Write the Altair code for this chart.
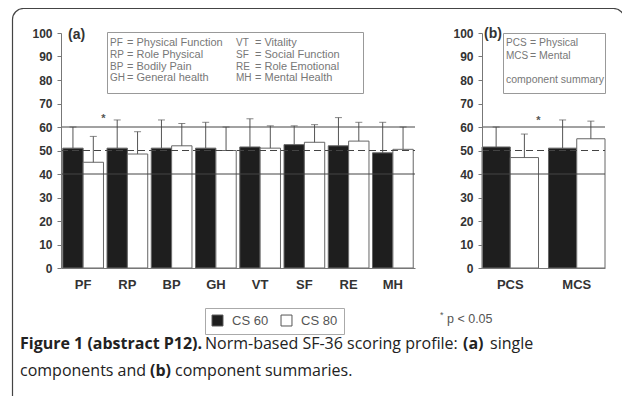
import altair as alt
import pandas as pd

# ---------------- data ----------------
cats_a = ["PF", "RP", "BP", "GH", "VT", "SF", "RE", "MH"]
cs60_a = [51, 51, 51, 51, 51.5, 52.5, 52, 49]
cs60_a_err = [60, 63, 63, 62, 63.5, 60.5, 64, 62]
cs80_a = [45, 48.5, 52, 50, 51, 53.5, 54, 50.5]
cs80_a_err = [56, 58, 61.5, 60, 60.5, 61, 62, 60]

cats_b = ["PCS", "MCS"]
cs60_b = [51.5, 51]
cs60_b_err = [60, 63]
cs80_b = [47, 55]
cs80_b_err = [57, 62.5]

groups = ["CS 60", "CS 80"]
group_fill = ["#1e1e1e", "#ffffff"]

sig_a_cat = ["PF"]
sig_a_pos = [64.5]
sig_b_cat = ["PCS"]
sig_b_pos = [64]

ref_solid = [40, 60]
ref_dashed = [50]
y_ticks = [0, 10, 20, 30, 40, 50, 60, 70, 80, 90, 100]

abbr_a1 = ["PF", "RP", "BP", "GH"]
desc_a1 = ["= Physical Function", "= Role Physical", "= Bodily Pain", "= General health"]
abbr_a2 = ["VT", "SF", "RE", "MH"]
desc_a2 = ["= Vitality", "= Social Function", "= Role Emotional", "= Mental Health"]
abbr_b = ["PCS", "MCS"]
desc_b = ["= Physical", "= Mental"]
note_b = "component summary"

caption1 = [("Figure 1 (abstract P12).", "bold"),
            ("Norm-based SF-36 scoring profile:", "normal"),
            ("(a)", "bold"), ("single", "normal")]
caption2 = [("components and", "normal"), ("(b)", "bold"),
            ("component summaries.", "normal")]
sig_note = "p  < 0.05"

# ---------------- tables ----------------
def long_table(cats, v60, e60, v80, e80):
    rows = []
    for c, a, ea, b, eb in zip(cats, v60, e60, v80, e80):
        rows.append({"cat": c, "group": groups[0], "value": a, "err": ea})
        rows.append({"cat": c, "group": groups[1], "value": b, "err": eb})
    return pd.DataFrame(rows)

df_a = long_table(cats_a, cs60_a, cs60_a_err, cs80_a, cs80_a_err)
df_b = long_table(cats_b, cs60_b, cs60_b_err, cs80_b, cs80_b_err)
sig_a = pd.DataFrame({"cat": sig_a_cat, "group": [groups[1]] * len(sig_a_cat), "pos": sig_a_pos})
sig_b = pd.DataFrame({"cat": sig_b_cat, "group": [groups[1]] * len(sig_b_cat), "pos": sig_b_pos})
one = pd.DataFrame({"k": [0]})

FONT = "Liberation Sans"
CAP_FONT = "Open Sans"

# ---------------- layout (plot-area pixels) ----------------
Y0, Y100 = 260, 25
XA = [53, 407]
XB = [474, 597]

ys = alt.Scale(domain=[0, 100], range=[Y0, Y100], nice=False)
xa = alt.Scale(domain=cats_a, range=XA, paddingInner=0.08, paddingOuter=0.04)
xb = alt.Scale(domain=cats_b, range=XB, paddingInner=0.15, paddingOuter=0)
xo = alt.Scale(domain=groups, paddingInner=0, paddingOuter=0)

fill_enc = alt.Fill(
    "group:N",
    scale=alt.Scale(domain=groups, range=group_fill),
    legend=alt.Legend(
        orient="none", legendX=197, legendY=300, direction="horizontal",
        title=None, symbolType="square", symbolSize=120,
        symbolStrokeColor="#555", symbolStrokeWidth=1,
        labelFont=FONT, labelFontSize=13, labelColor="#555",
        strokeColor="#aaa", fillColor="white", padding=6,
        columnPadding=10, labelOffset=8,
    ),
)


def y_axis(offset):
    return alt.Axis(
        orient="left", offset=offset, values=y_ticks, grid=False, title=None,
        labelFont=FONT, labelFontSize=12, labelFontWeight="bold", labelColor="#333",
        tickSize=4, tickColor="#777", domainColor="#777", labelPadding=5, zindex=2,
    )


def x_axis():
    return alt.Axis(
        orient="bottom", offset=-(388 - Y0), ticks=False, title=None, labelAngle=0,
        labelFont=FONT, labelFontSize=13, labelFontWeight="bold", labelColor="#333",
        domainColor="#777", labelPadding=10, zindex=2,
    )


def panel(df, sig, xs, xr, yoff):
    bars = alt.Chart(df).mark_bar(stroke="#666", strokeWidth=1).encode(
        x=alt.X("cat:N", scale=xs, axis=x_axis(), sort=None),
        xOffset=alt.XOffset("group:N", scale=xo),
        y=alt.Y("value:Q", scale=ys, axis=y_axis(yoff)),
        fill=fill_enc,
    )
    errs = alt.Chart(df).mark_rule(color="#555", strokeWidth=1).encode(
        x=alt.X("cat:N", scale=xs, axis=None),
        xOffset=alt.XOffset("group:N", scale=xo),
        y=alt.Y("value:Q", scale=ys, axis=None),
        y2="err:Q",
    )
    caps = alt.Chart(df).mark_tick(color="#555", size=7, thickness=1).encode(
        x=alt.X("cat:N", scale=xs, axis=None),
        xOffset=alt.XOffset("group:N", scale=xo),
        y=alt.Y("err:Q", scale=ys, axis=None),
    )
    stars = alt.Chart(sig).mark_text(
        text="*", font=FONT, fontSize=11, fontWeight="bold", color="#555", dy=3
    ).encode(
        x=alt.X("cat:N", scale=xs, axis=None),
        xOffset=alt.XOffset("group:N", scale=xo),
        y=alt.Y("pos:Q", scale=ys, axis=None),
    )
    solid = alt.Chart(pd.DataFrame({"v": ref_solid})).mark_rule(
        color="#444", strokeWidth=1
    ).encode(y=alt.Y("v:Q", scale=ys, axis=None), x=alt.value(xr[0]), x2=alt.value(xr[1]))
    dashed = alt.Chart(pd.DataFrame({"v": ref_dashed})).mark_rule(
        color="#444", strokeWidth=1, strokeDash=[7, 4]
    ).encode(y=alt.Y("v:Q", scale=ys, axis=None), x=alt.value(xr[0]), x2=alt.value(xr[1]))
    return [bars, errs, caps, solid, dashed, stars]


def txt(text, x, y, size=11, weight="normal", color="#777", font=FONT,
        baseline="middle", line_height=None):
    kw = dict(text=text, font=font, fontSize=size, fontWeight=weight, color=color,
              align="left", baseline=baseline)
    if line_height is not None:
        kw["lineBreak"] = "\n"
        kw["lineHeight"] = line_height
    return alt.Chart(one).mark_text(**kw).encode(x=alt.value(x), y=alt.value(y))


def box(x, x2, y, y2, stroke="#999", width=1, radius=0, fill="white"):
    return alt.Chart(one).mark_rect(
        fill=fill, stroke=stroke, strokeWidth=width, cornerRadius=radius
    ).encode(x=alt.value(x), x2=alt.value(x2), y=alt.value(y), y2=alt.value(y2))


layers = []
# outer figure frame
layers.append(box(4.5, 616.5, 0.5, 440, stroke="#444", width=1.2, radius=11,
                  fill="transparent"))

# legend boxes inside the panels
layers.append(box(99.5, 355.5, 24.5, 85.5))
layers.append(box(495.5, 597.5, 25.5, 85.5))

layers += panel(df_a, sig_a, xa, XA, -XA[0])
layers += panel(df_b, sig_b, xb, XB, -XB[0])

# abbreviations text
LH = 11.8
layers.append(txt("\n".join(abbr_a1), 102, 35, line_height=LH, size=10))
layers.append(txt("\n".join(desc_a1), 119, 35, line_height=LH))
layers.append(txt("\n".join(abbr_a2), 228, 35, line_height=LH, size=10))
layers.append(txt("\n".join(desc_a2), 247, 35, line_height=LH))
layers.append(txt("\n".join(abbr_b), 498, 35, line_height=13, size=10))
layers.append(txt("\n".join(desc_b), 522, 35, line_height=13, size=10.5))
layers.append(txt(note_b, 498, 72, size=10.5))

# panel labels
layers.append(txt("(a)", 60, 27, size=14, weight="bold", color="#333"))
layers.append(txt("(b)", 476, 26, size=14, weight="bold", color="#333"))

# significance note
layers.append(txt("*", 432, 307, size=9, color="#555"))
layers.append(txt(sig_note, 439, 311, size=12.5, color="#555"))

# caption
cap_x1 = [12, 197, 455, 482]
cap_x2 = [12, 142, 167]
for (t, w), x in zip(caption1, cap_x1):
    layers.append(txt(t, x, 336, size=16, weight=w, color="#222", font=CAP_FONT))
for (t, w), x in zip(caption2, cap_x2):
    layers.append(txt(t, x, 363, size=16, weight=w, color="#222", font=CAP_FONT))

chart = (
    alt.layer(*layers)
    .resolve_scale(x="independent", y="independent", xOffset="independent")
    .resolve_axis(x="independent", y="independent")
    .properties(width=614, height=388, padding=0,
                autosize=alt.AutoSizeParams(type="none"))
    .configure_view(stroke=None)
)

chart.save("out.html", embed_options={"renderer": "svg", "actions": False})
